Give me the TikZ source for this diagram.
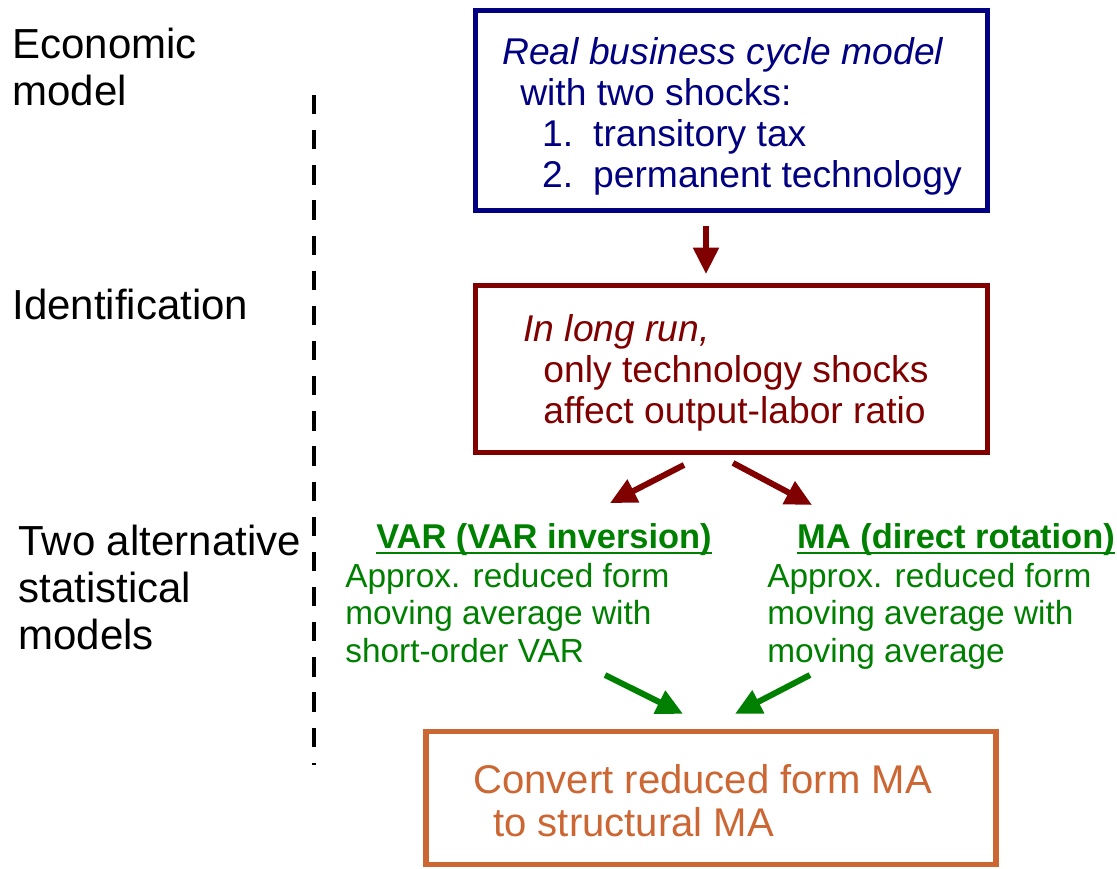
\documentclass[tikz,border=0pt]{standalone}
\usepackage{fontspec}
\setmainfont{Liberation Sans}
\usepackage{tikz}
\usetikzlibrary{arrows.meta, calc, positioning}
\usepackage{xcolor}
\definecolor{ModelBlue}{HTML}{000080}
\definecolor{IdentRed}{HTML}{800000}
\definecolor{StatGreen}{HTML}{008000}
\definecolor{ConvOrange}{HTML}{CC6633}
% bold underlined heading of a green block
\newcommand{\ulhead}[1]{%
    \setbox0\hbox{\fontsize{19.6}{21.3}\selectfont\bfseries #1}%
    \rlap{\rule[-3pt]{\wd0}{1.1pt}}\box0}
\tikzset{
    % Box styles - sharp corners, no fill
    modelbox/.style={
        rectangle,
        draw=ModelBlue,
        line width=2.8pt,
        minimum width=10.24cm,
        minimum height=4cm
    },
    identbox/.style={
        rectangle,
        draw=IdentRed,
        line width=2.8pt,
        minimum width=10.24cm,
        minimum height=3.34cm
    },
    resultbox/.style={
        rectangle,
        draw=ConvOrange,
        line width=3pt,
        minimum width=11.4cm,
        minimum height=2.66cm
    },
    % Text blocks, placed by their top left corner
    boxtext/.style={
        anchor=north west,
        inner sep=0pt,
        align=left,
        font=\fontsize{21.2}{23.4}\selectfont
    },
    stattext/.style={
        text=StatGreen,
        anchor=north west,
        inner sep=0pt,
        align=left,
        font=\fontsize{19}{21.3}\selectfont
    },
    rowlabel/.style={
        anchor=north west,
        inner sep=0pt,
        align=left,
        font=\fontsize{23.9}{26.7}\selectfont
    },
    % Arrow styles - straight lines only
    redarrow/.style={
        -{Triangle[length=15pt, width=14pt]},
        line width=3.4pt,
        draw=IdentRed
    },
    greenarrow/.style={
        -{Triangle[length=15pt, width=14pt]},
        line width=3.4pt,
        draw=StatGreen
    },
    divider/.style={
        line width=2.8pt,
        dash pattern=on 11pt off 9pt
    }
}

\begin{document}
\begin{tikzpicture}[x=0.02cm, y=-0.02cm]
    \useasboundingbox (0,0) rectangle (1117,869);

    % row labels on the left
    \node[rowlabel] (econ) at (12,28) {Economic\\model};
    \node[rowlabel] (ident) at (12,289) {Identification};
    \node[rowlabel] (alt) at (18,525) {Two alternative\\statistical\\models};

    \draw[divider] (314,95) -- (314,765);

    % boxes
    \node[modelbox] (rbc) at (731.5,110.5) {};
    \node[boxtext, text=ModelBlue] (rbctext) at (502,37) {\textit{Real business cycle model}\\
        \hspace*{10.2pt}with two shocks:\\
        \hspace*{22.7pt}\makebox[29pt][l]{1.}transitory tax\\
        \hspace*{22.7pt}\makebox[29pt][l]{2.}permanent technology};

    \node[identbox] (lr) at (731.5,369) {};
    \node[boxtext, text=IdentRed] (lrtext) at (523,314) {\textit{In long run,}\\
        \hspace*{11.4pt}only technology shocks\\
        \hspace*{11.4pt}affect output-labor ratio};

    \node[stattext] (var) at (345,523) {\hspace*{17.6pt}\ulhead{VAR (VAR inversion)}\\[1pt]
        Approx. reduced form\\
        moving average with\\
        short-order VAR};
    \node[stattext] (ma) at (767,523) {\hspace*{17pt}\ulhead{MA (direct rotation)}\\[1pt]
        Approx. reduced form\\
        moving average with\\
        moving average};

    \node[resultbox] (conv) at (711,798) {};
    \node[boxtext, text=ConvOrange, font=\fontsize{22.8}{24.5}\selectfont] (convtext) at (473,764)
        {Convert reduced form MA\\
        \hspace*{11.4pt}to structural MA};

    % arrows
    \draw[redarrow] ($(rbc.south)+(-25.5,13)$) -- ($(lr.north)+(-25.5,-9)$);
    \draw[redarrow] ($(lr.south)+(-47.5,10)$) -- ($(var.north west)+(265,-20)$);
    \draw[redarrow] ($(lr.south)+(1.5,8)$) -- ($(ma.north west)+(45,-18)$);
    \draw[greenarrow] ($(var.north west)+(260,152)$) -- ($(conv.north)+(-28,-15)$);
    \draw[greenarrow] ($(ma.north west)+(43,152)$) -- ($(conv.north)+(24,-15)$);
\end{tikzpicture}
\end{document}
